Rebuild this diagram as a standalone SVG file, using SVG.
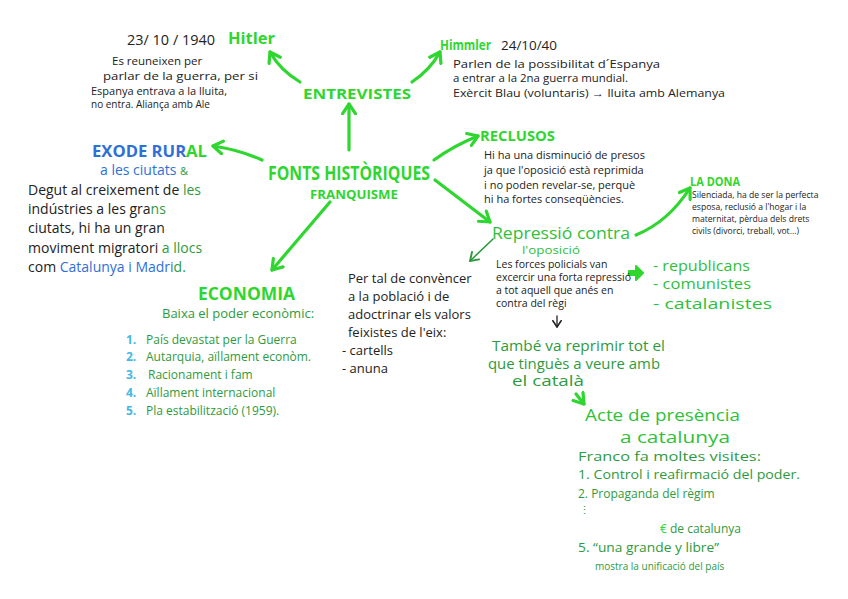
<svg xmlns="http://www.w3.org/2000/svg" width="848" height="599" viewBox="0 0 848 599">
<defs>
<style>
text{font-family:"Open Sans","Liberation Sans",sans-serif;}
.h{font-weight:bold;fill:#2fd62f;}
.bk{fill:#222;}
.dg{fill:#2e9a3e;}
.bl{fill:#2f6fd8;}
.nb{fill:#45b8e6;}
.con{fill:none;stroke:#2fd62f;stroke-width:3.2;stroke-linecap:round;}
.thin{fill:none;stroke:#2e9a3e;stroke-width:1.6;stroke-linecap:round;}
</style>
<marker id="ah" viewBox="0 0 10 10" refX="7" refY="5" markerWidth="5" markerHeight="5" orient="auto" markerUnits="strokeWidth">
<path d="M1,1 L7,5 L1,9" fill="none" stroke="#2fd62f" stroke-width="2" stroke-linecap="round" stroke-linejoin="round"/>
</marker>
<marker id="ahs" viewBox="0 0 10 10" refX="7" refY="5" markerWidth="8" markerHeight="8" orient="auto" markerUnits="strokeWidth">
<path d="M1,1 L7,5 L1,9" fill="none" stroke="#2e9a3e" stroke-width="1.5" stroke-linecap="round" stroke-linejoin="round"/>
</marker>
<marker id="ahk" viewBox="0 0 10 10" refX="7" refY="5" markerWidth="8" markerHeight="8" orient="auto" markerUnits="strokeWidth">
<path d="M1,1 L7,5 L1,9" fill="none" stroke="#222" stroke-width="1.5" stroke-linecap="round" stroke-linejoin="round"/>
</marker>
</defs>
<rect width="848" height="599" fill="#fff"/>

<g id="connectors">
<path class="con" d="M300,82 Q280,70 270,52" marker-end="url(#ah)"/>
<path class="con" d="M412,82 Q430,70 440,52" marker-end="url(#ah)"/>
<path class="con" d="M349,150 L349,104" marker-end="url(#ah)"/>
<path class="con" d="M262,160 Q240,150 213,146" marker-end="url(#ah)"/>
<path class="con" d="M330,202 L272,270" marker-end="url(#ah)"/>
<path class="con" d="M434,160 Q455,145 478,136" marker-end="url(#ah)"/>
<path class="con" d="M435,180 L490,222" marker-end="url(#ah)"/>
<path class="con" d="M636,235 Q668,222 690,188" marker-end="url(#ah)"/>
<path class="thin" d="M493,239 L470,261" marker-end="url(#ahs)"/>
<path fill="none" stroke="#222" stroke-width="1.3" stroke-linecap="round" d="M557,316 L557,327" marker-end="url(#ahk)"/>
<path class="con" d="M576,394 L584,404" marker-end="url(#ah)"/>
<path d="M629,271 L636,271 L636,266 L643,273 L636,280 L636,275 L629,275 Z" fill="#2fd62f" stroke="#2fd62f" stroke-width="2" stroke-linejoin="round"/>
</g>

<g id="hitler">
<text x="127" y="45" class="bk" font-size="14" textLength="88" lengthAdjust="spacingAndGlyphs">23/ 10 / 1940</text>
<text x="228" y="44" class="h" font-size="16" textLength="47" lengthAdjust="spacingAndGlyphs">Hitler</text>
<g class="bk" font-size="11.5">
<text x="112" y="65">Es reuneixen per</text>
<text x="103" y="80" textLength="155" lengthAdjust="spacingAndGlyphs">parlar de la guerra, per si</text>
<text x="91" y="95" font-size="11">Espanya entrava a la lluita,</text>
<text x="91" y="108" font-size="10">no entra. Aliança amb Ale</text>
</g>
</g>

<g id="entrevistes">
<text x="303" y="99" class="h" font-size="15" textLength="108" lengthAdjust="spacingAndGlyphs">ENTREVISTES</text>
</g>

<g id="himmler">
<text x="440" y="50" class="h" font-size="15" textLength="51" lengthAdjust="spacingAndGlyphs">Himmler</text>
<text x="501" y="50" class="bk" font-size="13" textLength="56" lengthAdjust="spacingAndGlyphs">24/10/40</text>
<g class="bk" font-size="11">
<text x="453" y="68" textLength="207" lengthAdjust="spacingAndGlyphs">Parlen de la possibilitat d´Espanya</text>
<text x="453" y="82" textLength="175" lengthAdjust="spacingAndGlyphs">a entrar a la 2na guerra mundial.</text>
<text x="453" y="97" textLength="272" lengthAdjust="spacingAndGlyphs">Exèrcit Blau (voluntaris) → lluita amb Alemanya</text>
</g>
</g>

<g id="exode">
<text x="92" y="157" class="bl" font-size="16" font-weight="bold" textLength="115" lengthAdjust="spacingAndGlyphs">EXODE RUR<tspan fill="#2fd62f">AL</tspan></text>
<text x="100" y="175" class="bl" font-size="14">a les ciutats <tspan fill="#2e9a3e" font-size="11">&amp;</tspan></text>
<g class="bk" font-size="14">
<text x="28" y="195">Degut al creixement de <tspan fill="#2e9a3e">les</tspan></text>
<text x="28" y="214">indústries a les gra<tspan fill="#2e9a3e">ns</tspan></text>
<text x="28" y="233">ciutats, hi ha un gran</text>
<text x="28" y="253">moviment migratori <tspan fill="#2e9a3e">a llocs</tspan></text>
<text x="28" y="272">com <tspan fill="#2f6fd8">Catalunya i Madri</tspan><tspan fill="#2e9a3e">d.</tspan></text>
</g>
</g>

<g id="fonts">
<text x="268" y="180" class="h" font-size="19" textLength="162" lengthAdjust="spacingAndGlyphs">FONTS HISTÒRIQUES</text>
<text x="310" y="199" class="h" font-size="12.5" textLength="88" lengthAdjust="spacingAndGlyphs">FRANQUISME</text>
</g>

<g id="reclusos">
<text x="480" y="141" class="h" font-size="15" textLength="75" lengthAdjust="spacingAndGlyphs">RECLUSOS</text>
<g class="bk" font-size="11">
<text x="484" y="159">Hi ha una disminució de presos</text>
<text x="484" y="174">ja que l'oposició està reprimida</text>
<text x="484" y="189">i no poden revelar-se, perquè</text>
<text x="484" y="203">hi ha fortes conseqüències.</text>
</g>
</g>

<g id="dona">
<text x="690" y="186" class="h" font-size="12" textLength="50" lengthAdjust="spacingAndGlyphs">LA DONA</text>
<g class="bk" font-size="8.6">
<text x="692" y="198">Silenciada, ha de ser la perfecta</text>
<text x="692" y="210">esposa, reclusió a l'hogar i la</text>
<text x="692" y="222">maternitat, pèrdua dels drets</text>
<text x="692" y="234">civils (divorci, treball, vot...)</text>
</g>
</g>

<g id="repressio">
<text x="492" y="239" fill="#2fc03a" font-size="16" textLength="138" lengthAdjust="spacingAndGlyphs">Repressió contra</text>
<text x="522" y="254" fill="#2fc03a" font-size="10" textLength="58" lengthAdjust="spacingAndGlyphs">l'oposició</text>
<g class="bk" font-size="10.5">
<text x="496" y="268">Les forces policials van</text>
<text x="496" y="281">excercir una forta repressió</text>
<text x="496" y="294">a tot aquell que anés en</text>
<text x="496" y="307">contra del règi</text>
</g>
</g>

<g id="grups">
<g fill="#2fc03a" font-size="15">
<text x="653" y="271" textLength="97" lengthAdjust="spacingAndGlyphs">- republicans</text>
<text x="653" y="289" textLength="98" lengthAdjust="spacingAndGlyphs">- comunistes</text>
<text x="653" y="309" textLength="119" lengthAdjust="spacingAndGlyphs">- catalanistes</text>
</g>
</g>

<g id="propaganda">
<g class="bk" font-size="13">
<text x="348" y="283">Per tal de convèncer</text>
<text x="348" y="301">a la població i de</text>
<text x="348" y="319">adoctrinar els valors</text>
<text x="348" y="337">feixistes de l'eix:</text>
<text x="342" y="355">- cartells</text>
<text x="342" y="373">- anuna</text>
</g>
</g>

<g id="catala">
<g class="dg" font-size="14">
<text x="492" y="351" textLength="173" lengthAdjust="spacingAndGlyphs">També va reprimir tot el</text>
<text x="488" y="369" textLength="172" lengthAdjust="spacingAndGlyphs">que tinguès a veure amb</text>
<text x="512" y="386" textLength="72" lengthAdjust="spacingAndGlyphs">el català</text>
</g>
</g>

<g id="acte">
<text x="585" y="421" fill="#2fc03a" font-size="17" textLength="155" lengthAdjust="spacingAndGlyphs">Acte de presència</text>
<text x="620" y="443" fill="#2fc03a" font-size="17" textLength="110" lengthAdjust="spacingAndGlyphs">a catalunya</text>
<g class="dg" font-size="13">
<text x="578" y="461" textLength="183" lengthAdjust="spacingAndGlyphs">Franco fa moltes visites:</text>
<text x="578" y="479" textLength="222" lengthAdjust="spacingAndGlyphs">1. Control i reafirmació del poder.</text>
<text x="578" y="498" font-size="12">2. Propaganda del règim</text>
<text x="579" y="514" font-size="11">⋮</text>
<text x="660" y="533" font-size="12"><tspan fill="#2fd62f">€</tspan> de catalunya</text>
<text x="578" y="552" textLength="141" lengthAdjust="spacingAndGlyphs">5. “una grande y libre”</text>
<text x="595" y="570" font-size="10">mostra la unificació del país</text>
</g>
</g>

<g id="economia">
<text x="198" y="300" class="h" font-size="17" textLength="97" lengthAdjust="spacingAndGlyphs">ECONOMIA</text>
<text x="162" y="318" class="dg" font-size="13">Baixa el poder econòmic:</text>
<g font-size="12">
<text x="126" y="344"><tspan class="nb" font-weight="bold">1.</tspan><tspan class="dg" x="146">País devastat per la Guerra</tspan></text>
<text x="126" y="361"><tspan class="nb" font-weight="bold">2.</tspan><tspan class="dg" x="146">Autarquia, aïllament econòm.</tspan></text>
<text x="126" y="379"><tspan class="nb" font-weight="bold">3.</tspan><tspan class="dg" x="148">Racionament i fam</tspan></text>
<text x="126" y="397"><tspan class="nb" font-weight="bold">4.</tspan><tspan class="dg" x="146">Aïllament internacional</tspan></text>
<text x="126" y="415"><tspan class="nb" font-weight="bold">5.</tspan><tspan class="dg" x="146">Pla estabilització (1959).</tspan></text>
</g>
</g>
</svg>
